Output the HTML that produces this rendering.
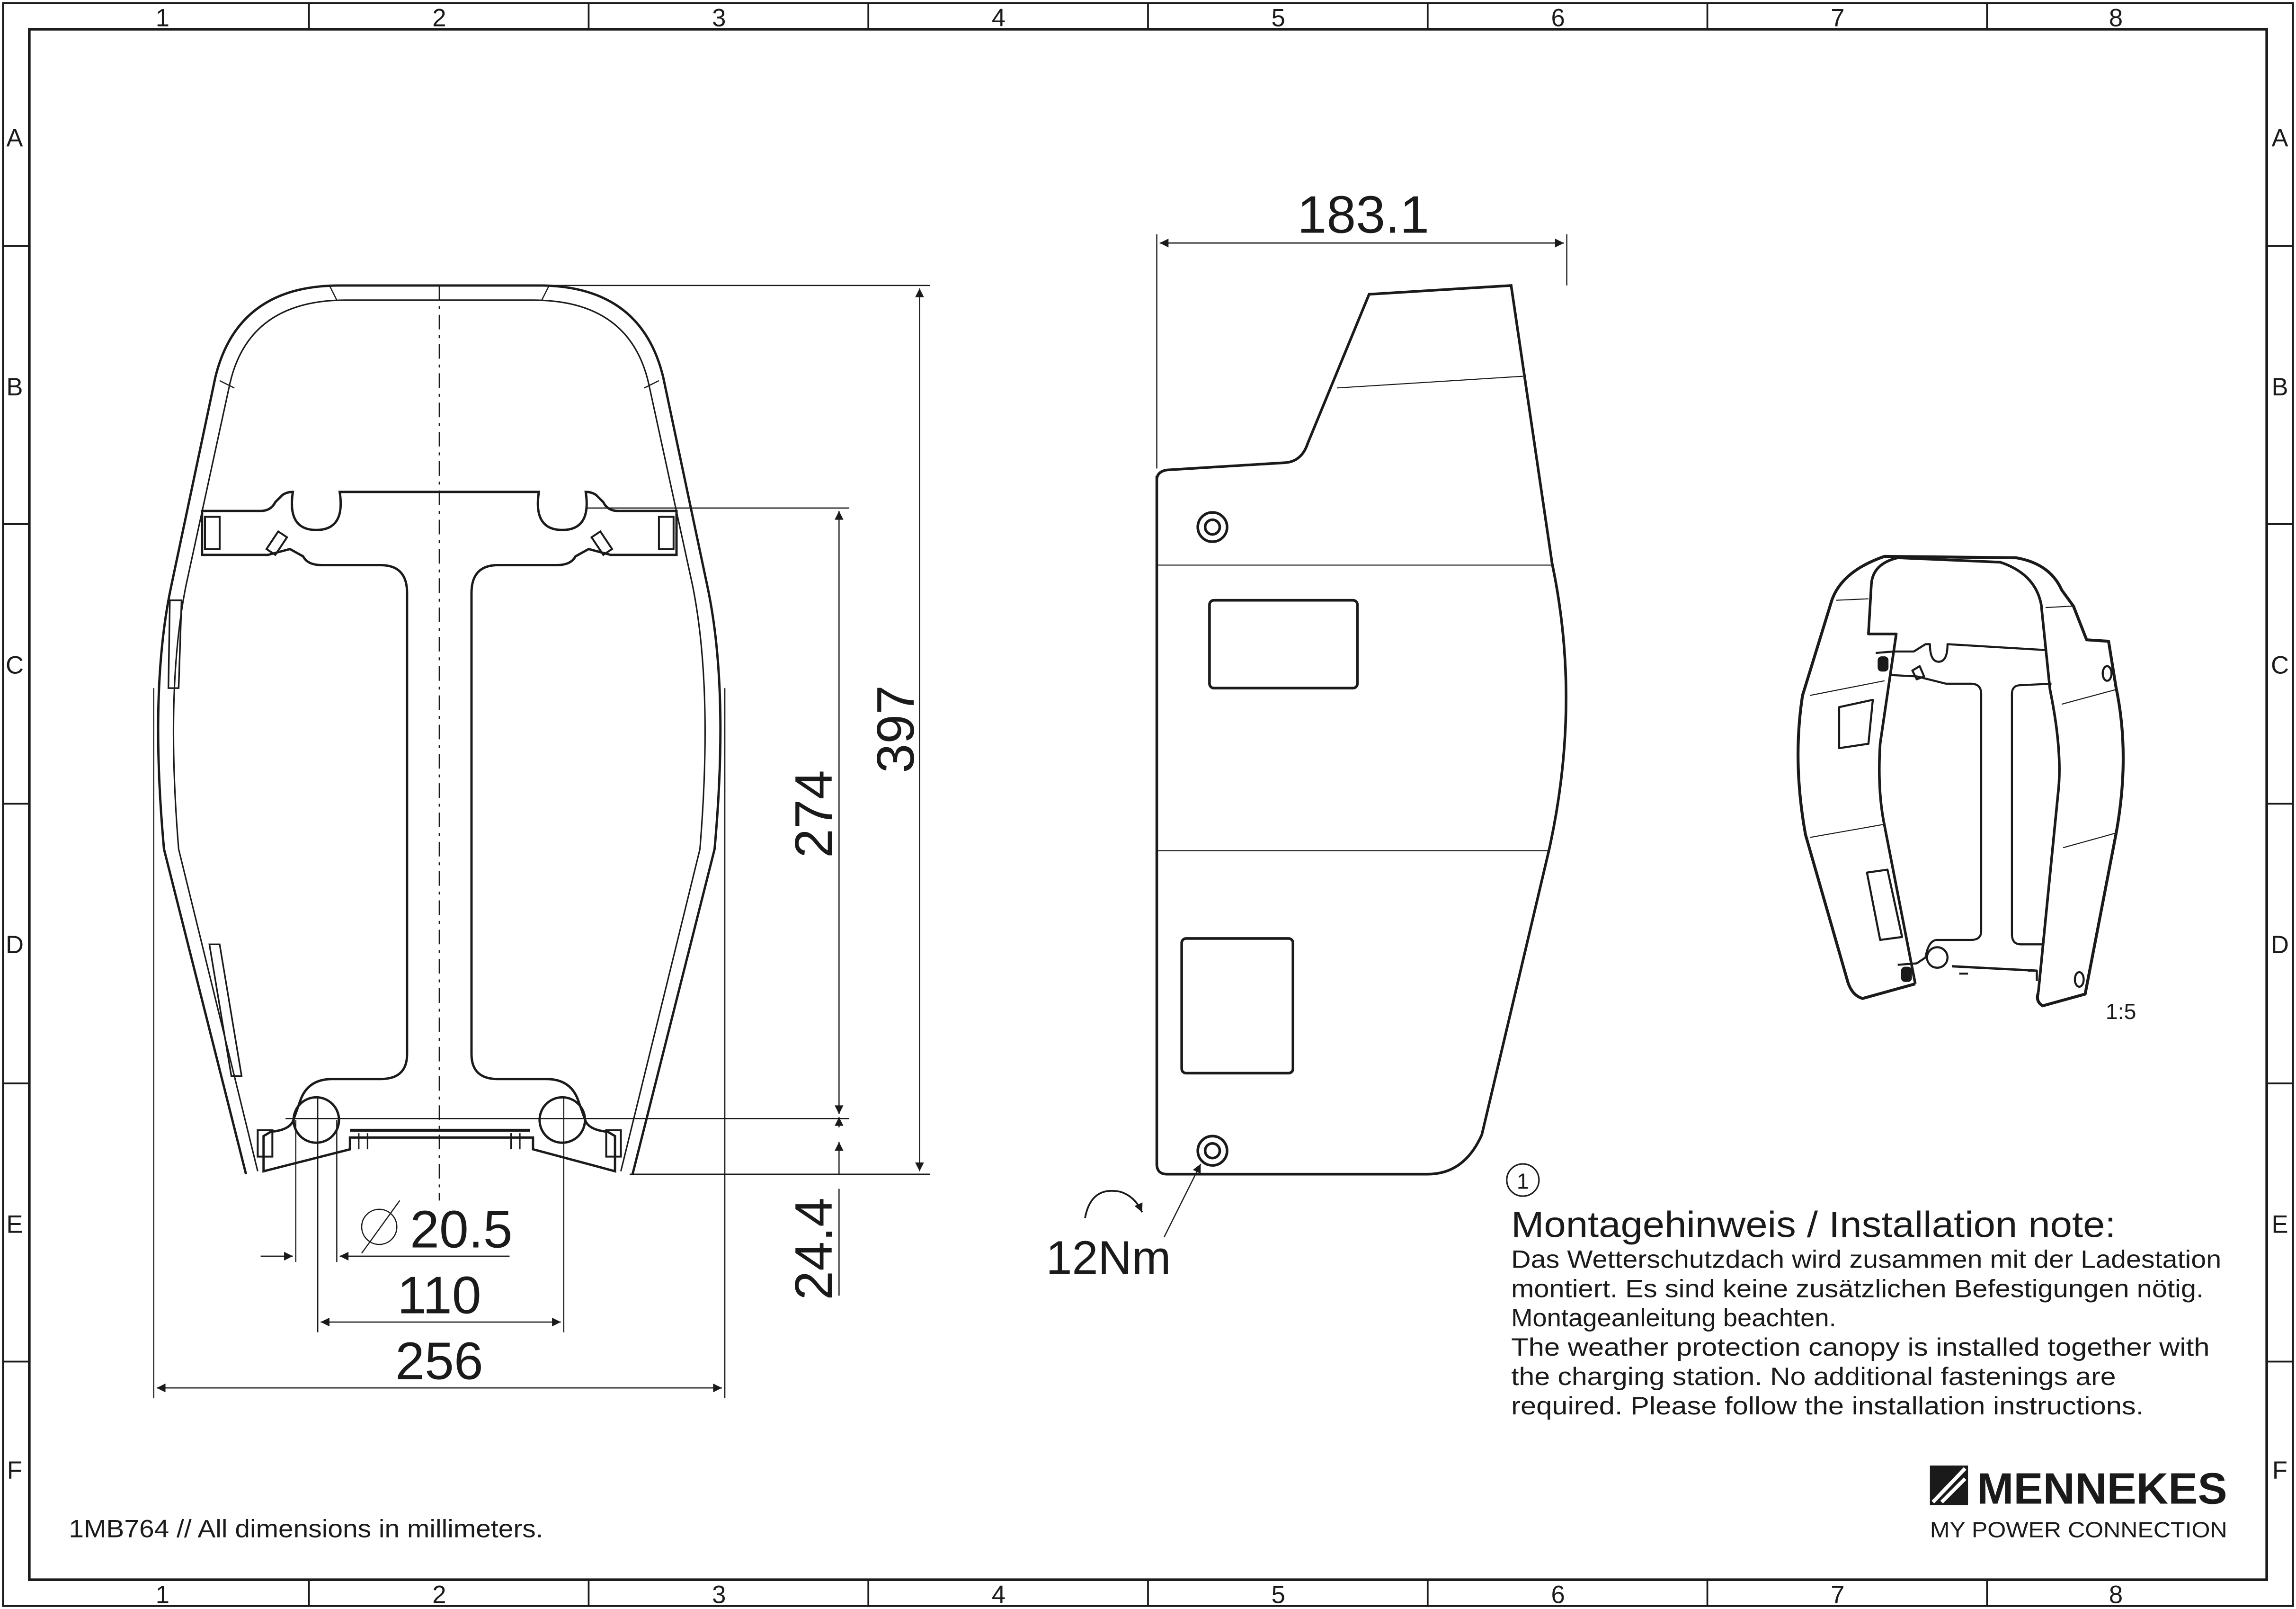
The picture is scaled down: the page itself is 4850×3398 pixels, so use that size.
<!DOCTYPE html>
<html><head><meta charset="utf-8"><style>
html,body{margin:0;padding:0;background:#fff}
svg{display:block}
text{font-family:"Liberation Sans",sans-serif;fill:#1a1a1a}
</style></head><body>
<svg width="4850" height="3398" viewBox="0 0 1568 1099" preserveAspectRatio="none" xmlns="http://www.w3.org/2000/svg">
<defs>
<marker id="a" viewBox="0 0 10 10" refX="10" refY="5" markerWidth="10" markerHeight="6" orient="auto-start-reverse" markerUnits="userSpaceOnUse"><path d="M0,0 L10,5 L0,10 z" fill="#1a1a1a"/></marker>
</defs>
<g fill="none" stroke="#1a1a1a" stroke-width="1.2">
<rect x="2" y="2" width="1564" height="1095"/>
<rect x="20" y="20" width="1528" height="1059" stroke-width="1.8"/>
<path d="M211,2V20M402,2V20M593,2V20M784,2V20M975,2V20M1166,2V20M1357,2V20M211,1079V1097M402,1079V1097M593,1079V1097M784,1079V1097M975,1079V1097M1166,1079V1097M1357,1079V1097M2,168H20M2,358H20M2,549H20M2,740H20M2,930H20M1548,168H1566M1548,358H1566M1548,549H1566M1548,740H1566M1548,930H1566"/>
</g>
<g font-size="17" text-anchor="middle">
<text x="111" y="18">1</text><text x="300" y="18">2</text><text x="491" y="18">3</text><text x="682" y="18">4</text><text x="873" y="18">5</text><text x="1064" y="18">6</text><text x="1255" y="18">7</text><text x="1445" y="18">8</text>
<text x="111" y="1095">1</text><text x="300" y="1095">2</text><text x="491" y="1095">3</text><text x="682" y="1095">4</text><text x="873" y="1095">5</text><text x="1064" y="1095">6</text><text x="1255" y="1095">7</text><text x="1445" y="1095">8</text>
<text x="10" y="100">A</text><text x="10" y="270">B</text><text x="10" y="460">C</text><text x="10" y="651">D</text><text x="10" y="842">E</text><text x="10" y="1010">F</text>
<text x="1557" y="100">A</text><text x="1557" y="270">B</text><text x="1557" y="460">C</text><text x="1557" y="651">D</text><text x="1557" y="842">E</text><text x="1557" y="1010">F</text>
</g>

<!-- front view -->
<g fill="none" stroke="#1a1a1a" stroke-width="1.6">
<path d="M168,802 L112,580 Q102,470 117,400 L147,258 Q162,195 232,195 L368,195 Q438,195 453,258 L483,400 Q498,470 488,580 L432,802"/>
<path d="M176,800 L122,580 Q113,470 127,400 L157,262 Q170,205 236,205 L364,205 Q430,205 443,262 L473,400 Q487,470 478,580 L424,800" stroke-width="1"/>
<path d="M150,260 L160,265 M450,260 L440,265 M225,195 L230,205 M375,195 L370,205" stroke-width="0.8"/>
<path d="M138,349 L178,349 Q185,349 188,343 L193,338 Q196,336 200,336 Q196,362 216,362 Q236,362 232,336 L368,336 Q364,362 384,362 Q404,362 400,336 Q404,336 407,338 L412,343 Q415,349 422,349 L462,349 L462,379 L417,379 L402,375 L393,380 Q390,386 380,386 L340,386 Q322,386 322,405 L322,720 Q322,737 340,737 L373,737 Q390,737 395,752 L400,766 Q403,772 415,773 L420,776 L420,800 L364,785 L364,777 L239,777 L239,785 L180,800 L180,776 L185,773 Q197,772 200,766 L205,752 Q210,737 227,737 L260,737 Q278,737 278,720 L278,405 Q278,386 260,386 L220,386 Q210,386 207,380 L198,375 L183,379 L138,379 Z"/>
<circle cx="216" cy="765" r="15.5"/><circle cx="384" cy="765" r="15.5"/>
<path d="M239,772 H362" stroke-width="2"/>
<path d="M245,774 V785 M251,774 V785 M349,774 V785 M355,774 V785" stroke-width="1"/>
<path d="M140,353 h10 v22 h-10z M450,353 h10 v22 h-10z M182,375 l8,-12 l6,4 l-8,12z M418,375 l-8,-12 l-6,4 l8,12z M176,772 h10 v18 h-10z M414,772 h10 v18 h-10z" stroke-width="1.3"/>
<path d="M116,410 L124,410 L122,470 L115,470 Z M143,645 L150,645 L165,735 L158,735 Z" stroke-width="1.1"/>
<path d="M300,195 V820" stroke-dasharray="10 4 2 4" stroke-width="0.8"/>
<g stroke-width="0.8">
<path d="M370,195 H635 M400,347 H580 M195,764 H580 M430,802 H635"/>
<path d="M628,197 V800" marker-start="url(#a)" marker-end="url(#a)"/>
<path d="M573,349 V761" marker-start="url(#a)" marker-end="url(#a)"/>
<path d="M573,770 V763" marker-end="url(#a)"/><path d="M573,780 V802" marker-start="url(#a)"/><path d="M573,812 V885"/>
<path d="M105,470 V955 M495,470 V955 M217,750 V910 M385,750 V910 M202,765 V862 M230,765 V862"/>
<path d="M107,948 H493" marker-start="url(#a)" marker-end="url(#a)"/>
<path d="M219,903 H383" marker-start="url(#a)" marker-end="url(#a)"/>
<path d="M178,858 H200" marker-end="url(#a)"/><path d="M232,858 H348" marker-start="url(#a)"/>
<circle cx="259" cy="838" r="12"/><path d="M247,856 L273,820"/>
</g>
</g>
<g font-size="36" text-anchor="middle">
<text x="300" y="942">256</text><text x="300" y="897">110</text><text x="315" y="852">20.5</text>
<text transform="translate(624,498) rotate(-90)">397</text>
<text transform="translate(568,556) rotate(-90)">274</text>
<text transform="translate(568,853) rotate(-90)">24.4</text>
<text x="931" y="159">183.1</text>
<text x="757" y="870" font-size="32">12Nm</text>
</g>

<!-- side view -->
<g fill="none" stroke="#1a1a1a" stroke-width="1.8">
<path d="M790,325 L790,795 Q790,802 797,802 L975,802 Q1000,802 1012,775 L1058,580 Q1080,480 1060,385 L1032,195 L935,201 L893,303 Q889,315 878,316 L797,321 Q790,322 790,328Z"/>
<path d="M790,386 H1060 M790,581 H1058 M913,265 L1040,257" stroke-width="0.7"/>
<rect x="826" y="410" width="101" height="60" rx="3"/>
<rect x="807" y="641" width="76" height="92" rx="3"/>
<circle cx="828" cy="360" r="10"/><circle cx="828" cy="360" r="5"/>
<circle cx="828" cy="786" r="10"/><circle cx="828" cy="786" r="5"/>
<path stroke-width="0.8" d="M790,160 V320 M1070,160 V195"/>
<path stroke-width="0.8" d="M792,166 H1068" marker-start="url(#a)" marker-end="url(#a)"/>
<path stroke-width="0.8" d="M795,845 L820,795" marker-end="url(#a)"/>
<path stroke-width="1.2" d="M741,832 Q745,810 765,814 Q775,817 780,828" marker-end="url(#a)"/>
</g>

<!-- iso view -->
<g fill="none" stroke="#1a1a1a" stroke-width="1.4" stroke-linejoin="round">
<path stroke-width="2" d="M1308,672 L1272,682 Q1265,680 1262,671 L1233,570 Q1224,520 1231,475 L1251,410 Q1258,390 1287,380 L1377,381 Q1400,385 1408,403 L1416,414 L1425,437 L1440,438 L1445,469 Q1455,516 1445,570 L1424,679 L1395,687 Q1390,684 1392,678"/>
<path stroke-width="1.8" d="M1296,381 Q1279,385 1278,399 L1276,433 L1295,433 L1284,508 Q1282,540 1287,564 L1308,672"/>
<path stroke-width="1.8" d="M1296,381 L1366,384 Q1390,392 1394,413 L1400,471 Q1408,510 1406,537 L1392,678"/>
<path d="M1281,446 L1293,445 L1307,445 L1315,440 L1318,440 Q1318,452 1324,452 Q1330,452 1330,440 L1397,444 M1290,461 L1309,462 L1329,467 L1346,467 Q1353,467 1353,474 L1353,636 Q1353,642 1346,642 L1323,642 Q1317,642 1315,654 L1309,658 L1296,659"/>
<path d="M1401,467 L1380,468 Q1374,468 1374,474 L1374,638 Q1374,645 1380,645 L1395,645"/>
<path d="M1333,660 L1391,663" stroke-width="1.6"/>
<circle cx="1323" cy="654" r="7"/>
<path d="M1256,483 L1279,478 L1276,508 L1256,511 Z M1275,596 L1289,594 L1299,640 L1284,642 Z"/>
<path stroke-width="0.7" d="M1254,410 L1276,409 M1236,475 L1287,465 M1236,572 L1287,563 M1397,415 L1415,414 M1408,481 L1445,471 M1409,579 L1445,569"/>
<ellipse cx="1439" cy="460" rx="3" ry="5"/><ellipse cx="1420" cy="669" rx="3" ry="5"/>
<rect x="1283" y="449" width="6" height="9" rx="2" fill="#1a1a1a"/>
<rect x="1299" y="661" width="6" height="9" rx="2" fill="#1a1a1a"/>
<path d="M1306,458 L1311,455 L1314,462 L1309,464 Z"/>
<path d="M1338,665 L1344,665 M1385,663 L1391,663 L1391,670"/>
</g>
<text x="1438" y="696" font-size="15">1:5</text>

<!-- note -->
<circle cx="1040" cy="806" r="11" fill="none" stroke="#1a1a1a" stroke-width="1"/>
<text x="1040" y="812" font-size="15" text-anchor="middle">1</text>
<text x="1032" y="845" font-size="25" textLength="413" lengthAdjust="spacingAndGlyphs">Montagehinweis / Installation note:</text>
<g font-size="17">
<text x="1032" y="866" textLength="485" lengthAdjust="spacingAndGlyphs">Das Wetterschutzdach wird zusammen mit der Ladestation</text>
<text x="1032" y="886" textLength="473" lengthAdjust="spacingAndGlyphs">montiert. Es sind keine zusätzlichen Befestigungen nötig.</text>
<text x="1032" y="906" textLength="222" lengthAdjust="spacingAndGlyphs">Montageanleitung beachten.</text>
<text x="1032" y="926" textLength="477" lengthAdjust="spacingAndGlyphs">The weather protection canopy is installed together with</text>
<text x="1032" y="946" textLength="413" lengthAdjust="spacingAndGlyphs">the charging station. No additional fastenings are</text>
<text x="1032" y="966" textLength="432" lengthAdjust="spacingAndGlyphs">required. Please follow the installation instructions.</text>
</g>

<!-- logo -->
<rect x="1318" y="1001" width="26" height="27" fill="#1a1a1a"/>
<path d="M1320,1026 L1342,1003 M1326,1026 L1342,1010" stroke="#fff" stroke-width="2.5"/>
<text x="1350" y="1027" font-size="30" font-weight="bold" textLength="171" lengthAdjust="spacingAndGlyphs">MENNEKES</text>
<text x="1318" y="1050" font-size="15" textLength="203" lengthAdjust="spacingAndGlyphs">MY POWER CONNECTION</text>
<text x="47" y="1050" font-size="17" textLength="324" lengthAdjust="spacingAndGlyphs">1MB764 // All dimensions in millimeters.</text>
</svg>
</body></html>
